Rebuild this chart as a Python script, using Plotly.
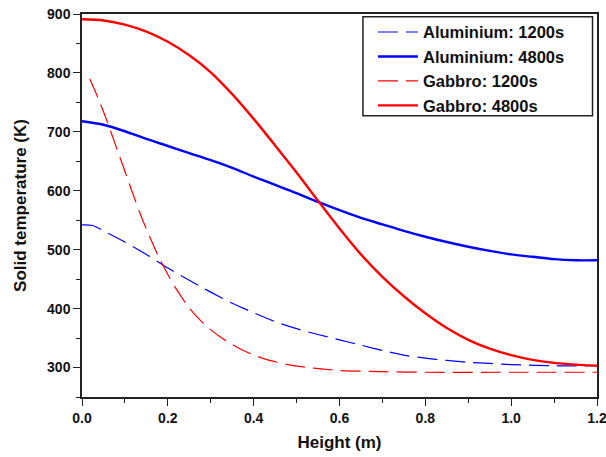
import plotly.graph_objects as go

# Solid temperature along the storage height, two materials at two times
h_al_1200 = [0, 0.025, 0.05, 0.1, 0.15, 0.2, 0.25, 0.3, 0.35, 0.4, 0.45, 0.5, 0.55,
             0.6, 0.65, 0.7, 0.75, 0.8, 0.85, 0.9, 0.95, 1.0, 1.1, 1.2]
t_al_1200 = [542, 541, 532, 513, 492, 469, 448, 428, 409, 393, 378, 366, 356,
             347, 338, 329, 321, 316, 312, 309, 307, 305, 303, 303]

h_al_4800 = [0, 0.05, 0.1, 0.15, 0.2, 0.25, 0.3, 0.35, 0.4, 0.45, 0.5, 0.55, 0.6,
             0.65, 0.7, 0.75, 0.8, 0.85, 0.9, 0.95, 1.0, 1.05, 1.1, 1.15, 1.2]
t_al_4800 = [718, 712, 701, 688, 676, 664, 652, 639, 624, 610, 596, 581, 567,
             554, 543, 532, 522, 513, 505, 498, 492, 488, 484, 482, 482]

h_ga_1200 = [0.018, 0.04, 0.06, 0.08, 0.1, 0.12, 0.14, 0.16, 0.18, 0.2, 0.22, 0.25,
             0.28, 0.32, 0.37, 0.42, 0.48, 0.54, 0.6, 0.7, 0.8, 1.0, 1.2]
t_ga_1200 = [790, 753, 715, 674, 633, 592, 553, 518, 486, 458, 433, 401,
             377, 353, 331, 316, 305, 299, 295, 293, 292, 292, 292]

h_ga_4800 = [0, 0.05, 0.1, 0.15, 0.2, 0.25, 0.3, 0.35, 0.4, 0.45, 0.5, 0.55, 0.6,
             0.65, 0.7, 0.75, 0.8, 0.85, 0.9, 0.95, 1.0, 1.05, 1.1, 1.15, 1.2]
t_ga_4800 = [891, 889, 882, 870, 853, 830, 801, 764, 722, 677, 631, 583, 536,
             492, 454, 421, 392, 367, 347, 332, 321, 313, 308, 305, 303]

series = [
    ("Aluminium: 1200s", h_al_1200, t_al_1200, "#0000FF", 1.2, "20px,8px"),
    ("Aluminium: 4800s", h_al_4800, t_al_4800, "#0000FF", 2.4, "solid"),
    ("Gabbro: 1200s", h_ga_1200, t_ga_1200, "#FF0000", 1.2, "20px,8px"),
    ("Gabbro: 4800s", h_ga_4800, t_ga_4800, "#FF0000", 2.4, "solid"),
]

fig = go.Figure()
for name, x, y, color, width, dash in series:
    fig.add_trace(go.Scatter(
        x=x, y=y, mode="lines", name=name,
        line=dict(color=color, width=width, dash=dash, shape="spline", smoothing=0.8),
    ))

font_family = "Liberation Sans, Arial, sans-serif"
axis_common = dict(
    showline=True, linecolor="#222222", linewidth=1.5, mirror=True,
    ticks="outside", ticklen=7, tickwidth=1.3, tickcolor="#222222",
    showgrid=False, zeroline=False, automargin=False,
    tickfont=dict(family=font_family, size=14, color="#111111", weight="bold"),
)

fig.update_xaxes(
    range=[0, 1.2], dtick=0.2, tickformat=".1f", ticklabeloverflow="allow",
    minor=dict(ticks="outside", dtick=0.1, ticklen=4, tickcolor="#222222", tickwidth=1.3),
    title=dict(text="Height (m)", standoff=12,
               font=dict(family=font_family, size=17, color="#111111", weight="bold")),
    **axis_common,
)
fig.update_yaxes(
    range=[250, 900], tickvals=[300, 400, 500, 600, 700, 800, 900],
    minor=dict(ticks="outside", dtick=50, ticklen=4, tickcolor="#222222", tickwidth=1.3),
    title=dict(text="Solid temperature (K)", standoff=16,
               font=dict(family=font_family, size=17, color="#111111", weight="bold")),
    **axis_common,
)

# legend frame drawn as a paper-anchored box, legend entries placed inside it
fig.add_shape(
    type="rect", xref="paper", yref="paper",
    x0=0.5455, x1=0.9913, y0=0.7343, y1=0.993,
    line=dict(color="#222222", width=1.5), fillcolor="white", layer="above",
)

fig.update_layout(
    width=606, height=457,
    margin=dict(l=81.5, r=8.5, t=14.3, b=60),
    paper_bgcolor="white", plot_bgcolor="white",
    showlegend=True,
    legend=dict(
        x=0.565, y=0.998, xanchor="left", yanchor="top",
        bgcolor="rgba(0,0,0,0)", borderwidth=0,
        font=dict(family=font_family, size=16.5, color="#111111", weight="bold"),
        tracegroupgap=0, itemwidth=40,
    ),
)

fig.write_html("out.html")
